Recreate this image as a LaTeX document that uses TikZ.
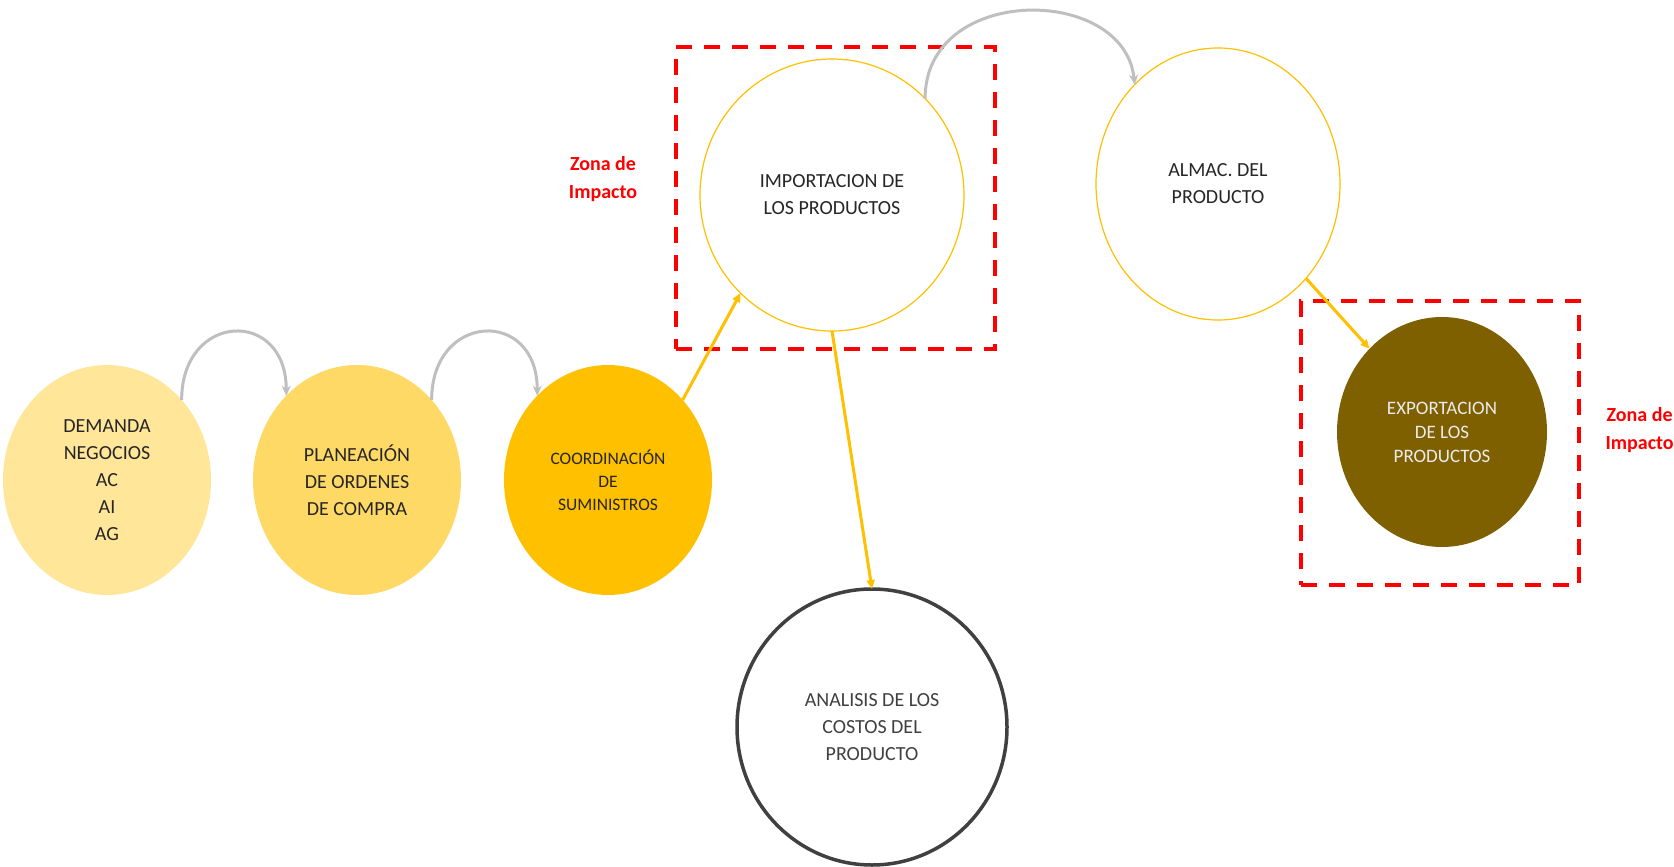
\documentclass[tikz,border=0pt]{standalone}
\usepackage{fontspec}
\setmainfont{Carlito}
\usetikzlibrary{shapes.geometric,arrows.meta}
\definecolor{paleyel}{HTML}{FFE699}
\definecolor{midyel}{HTML}{FFD966}
\definecolor{gold}{HTML}{FFC000}
\definecolor{olive}{HTML}{7F6000}
\definecolor{arcgray}{HTML}{BFBFBF}
\definecolor{ringgray}{HTML}{404040}
\definecolor{zonered}{HTML}{FF0000}
\definecolor{ink}{HTML}{262626}

\begin{document}
\begin{tikzpicture}[x=1pt,y=-1pt,
  bubble/.style={ellipse, inner sep=0pt, outer sep=0pt, align=center, text=ink,
                 font=\fontsize{20}{27}\selectfont},
  flow/.style={draw=gold, line width=3pt, -{Triangle[length=9pt,width=8pt]}},
  loop/.style={draw=arcgray, line width=3pt, -{Stealth[length=10pt,width=9pt]}},
  zone/.style={rectangle, draw=zonered, line width=4pt, dash pattern=on 16pt off 12pt},
  zonetxt/.style={text=zonered, font=\bfseries\fontsize{20}{28}\selectfont, align=center}
]
\useasboundingbox[fill=white] (0,0) rectangle (1674,867);

% process bubbles
\node[bubble, fill=paleyel, minimum width=208, minimum height=230] (dem) at (107,480)
  {DEMANDA\\NEGOCIOS\\AC\\AI\\AG};
\node[bubble, fill=midyel, minimum width=208, minimum height=230] (plan) at (357,480)
  {PLANEACIÓN\\DE ORDENES\\DE COMPRA};
\node[bubble, fill=gold, minimum width=208, minimum height=230,
      font=\fontsize{17.5}{23}\selectfont] (coord) at (608,480)
  {COORDINACIÓN\\DE\\SUMINISTROS};
\node[bubble, draw=gold, line width=1.2pt, minimum width=264, minimum height=272] (imp) at (832,195)
  {IMPORTACION DE\\LOS PRODUCTOS};
\node[bubble, draw=gold, line width=1.2pt, minimum width=244, minimum height=272] (alm) at (1218,184)
  {ALMAC. DEL\\PRODUCTO};
\node[bubble, fill=olive, text=white!92!black, minimum width=210, minimum height=230,
      font=\fontsize{19}{24}\selectfont] (exp) at (1442,432)
  {EXPORTACION\\DE LOS\\PRODUCTOS};
\node[bubble, draw=ringgray, text=ringgray, line width=3.5pt, minimum width=270, minimum height=276] (ana) at (872,727)
  {ANALISIS DE LOS\\COSTOS DEL\\PRODUCTO};

% impact zones
\node[zone, minimum width=319, minimum height=302] (zone1) at (835.5,198) {};
\node[zone, minimum width=278, minimum height=284] (zone2) at (1440,443) {};
\node[zonetxt] (ztxt1) at (603,179) {Zona de\\Impacto};
\node[zonetxt, anchor=west] (ztxt2) at (1602,430) {Zona de\\Impacto};

% sequence arcs
\draw[loop] (dem.47) .. controls +(0,-88) and +(0,-88) .. (plan.130);
\draw[loop] (plan.47) .. controls +(0,-88) and +(0,-88) .. (coord.130);
\draw[loop] (imp.46) .. controls +(0,-115) and +(-10,-100) .. (alm.130);

% flow arrows
\draw[flow] (coord.47) -- (imp.227);
\draw[flow] (imp.south) -- (ana.north);
\draw[flow] (alm.-47) -- (exp.131);
\end{tikzpicture}
\end{document}
